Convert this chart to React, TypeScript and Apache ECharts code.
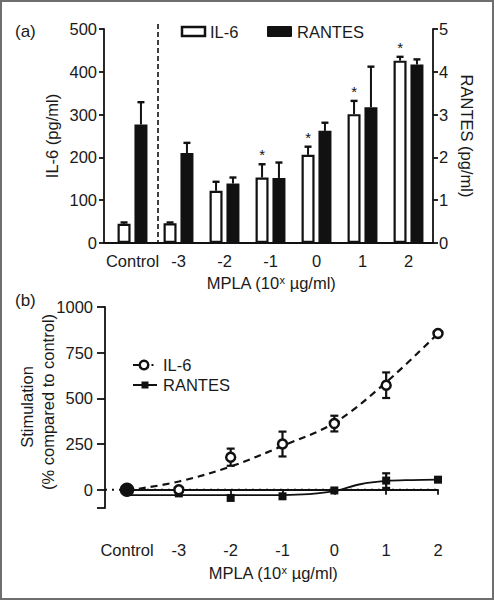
import React, { useEffect, useRef } from "react";
import * as echarts from "echarts";

// ---------- Panel (a) data ----------
const categories = ["Control", "-3", "-2", "-1", "0", "1", "2"];
const il6Values = [45, 46, 122, 153, 206, 301, 426];
const il6Errors = [3, 2, 21, 31, 19, 31, 9];
const rantesValues = [2.77, 2.1, 1.39, 1.52, 2.62, 3.17, 4.17];
const rantesErrors = [0.52, 0.24, 0.14, 0.36, 0.19, 0.95, 0.12];
const il6Significant = [false, false, false, true, true, true, true];
const leftTicks = [0, 500, 100];
const rightTicks = [0, 5, 1];

// ---------- Panel (b) data ----------
const doseX = [-4, -3, -2, -1, 0, 1, 2]; // -4 stands for Control
const doseLabels: Record<string, string> = {
  "-4": "Control", "-3": "-3", "-2": "-2", "-1": "-1", "0": "0", "1": "1", "2": "2",
};
const il6Stim = [0, 0, 178, 250, 362, 572, 855];
const il6StimErr = [0, 0, 47, 68, 43, 70, 0];
const rantesStim = [0, -20, -45, -36, -4, 50, 55];
const rantesStimErr = [0, 0, 0, 0, 0, 40, 0];
const il6FitX = [-4, -3, -2, -1, 0, 1, 2];
const il6Fit = [-5, 45, 127, 240, 366, 588, 855];
const rantesFitX = [-4, -3, -2, -1, -0.5, 0, 0.5, 1, 1.5, 2];
const rantesFit = [-30, -30, -30, -29, -24, -8, 30, 48, 53, 55];
const stimTickValues = [-100, 0, 250, 500, 750, 1000];
const stimLabelValues = [0, 250, 500, 750, 1000];

const INK = "#111";
const TXT = "#1a1a1a";
const FONT = "'Liberation Sans', Arial, Helvetica, sans-serif";
const FS = 16.5;

export default function App() {
  const ref = useRef<HTMLDivElement>(null);

  useEffect(() => {
    if (!ref.current) return;
    const chart = echarts.init(ref.current, undefined, { renderer: "svg" });

    const axisLine = { show: true, lineStyle: { color: INK, width: 1.8 } };
    const axisTick = (len: number) => ({ show: true, length: len, lineStyle: { color: INK, width: 1.8 } });
    const label = (margin: number) => ({
      color: TXT, fontSize: FS, fontFamily: FONT, margin, formatter: (v: any) => String(v),
    });

    const barErr = (vals: number[], errs: number[], yAxisIndex: number, offset: number, stars: boolean[] | null) => ({
      type: "custom",
      xAxisIndex: 1,
      yAxisIndex,
      z: 5,
      data: vals.map((v, i) => [i, v, v + errs[i], stars && stars[i] ? 1 : 0]),
      renderItem: (_p: any, api: any) => {
        const i = api.value(0);
        const base = api.coord([i, api.value(1)]);
        const top = api.coord([i, api.value(2)]);
        const x = base[0] + offset;
        const children: any[] = [
          { type: "line", shape: { x1: x, y1: base[1], x2: x, y2: top[1] }, style: { stroke: INK, lineWidth: 2 } },
          { type: "line", shape: { x1: x - 3.5, y1: top[1], x2: x + 3.5, y2: top[1] }, style: { stroke: INK, lineWidth: 2.4 } },
        ];
        if (api.value(3)) {
          children.push({
            type: "text", x, y: top[1] - 2,
            style: { text: "*", fontSize: 15, fontFamily: FONT, align: "center", verticalAlign: "bottom", fill: INK },
          });
        }
        return { type: "group", children };
      },
    });

    const pointErr = (vals: number[], errs: number[]) => ({
      type: "custom",
      xAxisIndex: 3,
      yAxisIndex: 5,
      z: 3,
      data: doseX.map((x, i) => [x, vals[i] - errs[i], vals[i] + errs[i], errs[i]]).filter((d) => d[3] > 0),
      renderItem: (_p: any, api: any) => {
        const lo = api.coord([api.value(0), api.value(1)]);
        const hi = api.coord([api.value(0), api.value(2)]);
        const x = lo[0];
        return {
          type: "group",
          children: [
            { type: "line", shape: { x1: x, y1: lo[1], x2: x, y2: hi[1] }, style: { stroke: INK, lineWidth: 2.2 } },
            { type: "line", shape: { x1: x - 4, y1: lo[1], x2: x + 4, y2: lo[1] }, style: { stroke: INK, lineWidth: 2.2 } },
            { type: "line", shape: { x1: x - 4, y1: hi[1], x2: x + 4, y2: hi[1] }, style: { stroke: INK, lineWidth: 2.2 } },
          ],
        };
      },
    });

    const txt = (text: string, x: number, y: number, extra: any = {}) => ({
      type: "text", x, y,
      style: { text, fontSize: FS, fontFamily: FONT, fill: TXT, align: "left", verticalAlign: "middle", ...extra },
    });
    const rotTxt = (text: string, x: number, y: number, rotation: number, extra: any = {}) => ({
      type: "text", x, y, rotation,
      style: { text, fontSize: FS, fontFamily: FONT, fill: TXT, align: "center", verticalAlign: "middle", ...extra },
    });
    const mplaTitle = (x: number, y: number) => ({
      type: "text", x, y,
      style: {
        text: "MPLA (10{sup|x} µg/ml)", fontSize: FS, fontFamily: FONT, fill: TXT, align: "center", verticalAlign: "middle",
        rich: { sup: { fontSize: 11, fontFamily: FONT, fill: TXT, padding: [0, 0, 7, 0] } },
      },
    });

    const option: any = {
      animation: false,
      backgroundColor: "#fff",
      textStyle: { fontFamily: FONT },
      grid: [
        { left: 104, right: 61, top: 29, bottom: 357 },
        { left: 109.5, right: 62.5, top: 29, bottom: 357 },
        { left: 105, right: 56, top: 307, bottom: 92 },
        { left: 127, right: 56, top: 307, bottom: 92 },
      ],
      xAxis: [
        { gridIndex: 0, type: "value", min: 0, max: 1, axisLine, axisTick: { show: false }, axisLabel: { show: false }, splitLine: { show: false } },
        {
          gridIndex: 1, type: "category", data: categories, axisLine: { show: false }, axisTick: { show: false },
          axisLabel: { ...label(9), interval: 0 }, splitLine: { show: false },
        },
        { gridIndex: 2, type: "value", min: 0, max: 1, show: false },
        {
          gridIndex: 3, type: "value", min: doseX[0], max: doseX[doseX.length - 1], interval: 1, offset: 22,
          axisLine, axisTick: axisTick(5),
          axisLabel: { ...label(11), formatter: (v: number) => doseLabels[String(v)] ?? String(v) },
          splitLine: { show: false },
        },
      ],
      yAxis: [
        { gridIndex: 0, type: "value", min: leftTicks[0], max: leftTicks[1], interval: leftTicks[2], axisLine, axisTick: axisTick(5), axisLabel: label(7), splitLine: { show: false } },
        { gridIndex: 0, type: "value", position: "right", min: rightTicks[0], max: rightTicks[1], interval: rightTicks[2], axisLine, axisTick: axisTick(5), axisLabel: label(6), splitLine: { show: false } },
        { gridIndex: 1, type: "value", min: leftTicks[0], max: leftTicks[1], show: false },
        { gridIndex: 1, type: "value", min: rightTicks[0], max: rightTicks[1], show: false },
        {
          gridIndex: 2, type: "value", min: stimTickValues[0], max: stimTickValues[stimTickValues.length - 1],
          axisLine, axisTick: { ...axisTick(8), customValues: stimTickValues },
          axisLabel: { ...label(12), customValues: stimLabelValues }, splitLine: { show: false },
        },
        { gridIndex: 3, type: "value", min: stimTickValues[0], max: stimTickValues[stimTickValues.length - 1], show: false },
      ],
      series: [
        {
          name: "IL-6", type: "bar", xAxisIndex: 1, yAxisIndex: 2, barWidth: 13, barGap: "30%", z: 2,
          itemStyle: { color: "#fff", borderColor: INK, borderWidth: 2.2 },
          data: il6Values,
        },
        {
          name: "RANTES", type: "bar", xAxisIndex: 1, yAxisIndex: 3, barWidth: 13, barGap: "30%", z: 2,
          itemStyle: { color: INK },
          data: rantesValues,
        },
        barErr(il6Values, il6Errors, 2, -8.45, il6Significant),
        barErr(rantesValues, rantesErrors, 3, 8.45, null),
        {
          type: "line", xAxisIndex: 2, yAxisIndex: 4, symbol: "none", z: 1,
          lineStyle: { color: INK, width: 2, type: [2, 5] },
          data: [[0, 0], [1, 0]],
        },
        {
          name: "IL-6 fit", type: "line", xAxisIndex: 3, yAxisIndex: 5, symbol: "none", smooth: 0.35, z: 2,
          lineStyle: { color: INK, width: 2.2, type: [7, 5] },
          data: il6FitX.map((x, i) => [x, il6Fit[i]]),
        },
        {
          name: "RANTES fit", type: "line", xAxisIndex: 3, yAxisIndex: 5, symbol: "none", smooth: 0.35, z: 2,
          lineStyle: { color: INK, width: 1.8 },
          data: rantesFitX.map((x, i) => [x, rantesFit[i]]),
        },
        pointErr(il6Stim, il6StimErr),
        pointErr(rantesStim, rantesStimErr),
        {
          name: "RANTES pts", type: "scatter", xAxisIndex: 3, yAxisIndex: 5, symbol: "rect", symbolSize: 8, z: 4,
          itemStyle: { color: INK, opacity: 1 },
          data: doseX.map((x, i) => [x, rantesStim[i]]),
        },
        {
          name: "IL-6 pts", type: "scatter", xAxisIndex: 3, yAxisIndex: 5, symbol: "circle", symbolSize: 9, z: 5,
          itemStyle: { color: "#fff", borderColor: INK, borderWidth: 2.5, opacity: 1 },
          data: doseX.map((x, i) =>
            i === 0
              ? { value: [x, il6Stim[i]], symbolSize: 12, itemStyle: { color: INK, borderColor: INK, opacity: 1 } }
              : [x, il6Stim[i]]
          ),
        },
      ],
      graphic: [
        txt("(a)", 15, 31, { fontSize: 17 }),
        txt("(b)", 15, 300, { fontSize: 17 }),
        // panel (a) separator
        { type: "line", shape: { x1: 158, y1: 24, x2: 158, y2: 243 }, style: { stroke: INK, lineWidth: 1.6, lineDash: [5, 3] } },
        // axis names panel (a)
        rotTxt("IL-6 (pg/ml)", 52, 136, Math.PI / 2),
        rotTxt("RANTES (pg/ml)", 467, 136, -Math.PI / 2),
        mplaTitle(271, 283),
        // legend panel (a)
        { type: "rect", shape: { x: 182, y: 27, width: 23, height: 9 }, style: { fill: "#fff", stroke: INK, lineWidth: 2.5 } },
        txt("IL-6", 210, 32),
        { type: "rect", shape: { x: 267, y: 26, width: 25, height: 11, r: 1 }, style: { fill: INK } },
        txt("RANTES", 297, 32),
        // axis names panel (b)
        rotTxt("Stimulation", 27, 407, Math.PI / 2),
        rotTxt("(% compared to control)", 48, 402, Math.PI / 2),
        mplaTitle(273, 573),
        // legend panel (b)
        { type: "line", shape: { x1: 133, y1: 365, x2: 139, y2: 365 }, style: { stroke: INK, lineWidth: 2 } },
        { type: "circle", shape: { cx: 144, cy: 365, r: 4.3 }, style: { fill: "#fff", stroke: INK, lineWidth: 2.5 } },
        { type: "rect", shape: { x: 151.5, y: 364, width: 2, height: 2 }, style: { fill: INK } },
        txt("IL-6", 163, 365),
        { type: "line", shape: { x1: 133, y1: 385, x2: 157, y2: 385 }, style: { stroke: INK, lineWidth: 2 } },
        { type: "rect", shape: { x: 141.5, y: 381.5, width: 7, height: 7 }, style: { fill: INK } },
        txt("RANTES", 163, 385),
      ],
    };

    chart.setOption(option);
    return () => chart.dispose();
  }, []);

  return (
    <div style={{ position: "absolute", left: 0, top: 0, width: 494, height: 600, background: "#fff" }}>
      <div ref={ref} style={{ position: "absolute", left: 0, top: 0, width: 494, height: 600 }} />
      <div
        style={{
          position: "absolute", left: 0, top: 0, width: 494, height: 600, boxSizing: "border-box",
          border: "2px solid #6e6e6e", pointerEvents: "none",
        }}
      />
    </div>
  );
}
